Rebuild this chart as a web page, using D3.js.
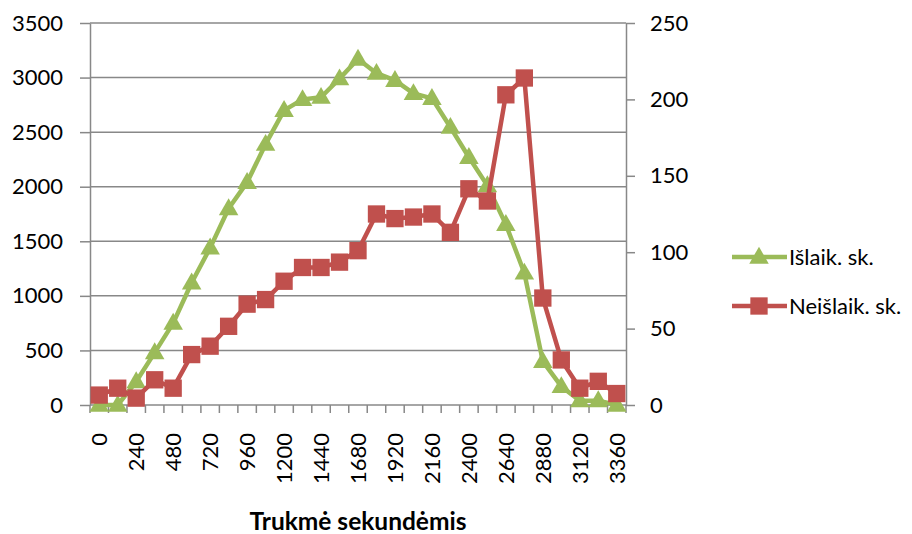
<!DOCTYPE html>
<html>
<head>
<meta charset="utf-8">
<script src="https://cdn.jsdelivr.net/npm/d3@7"></script>
<style>
  body { margin: 0; background: #fff; }
  svg text { font-family: Lato, "Liberation Sans", sans-serif; fill: #000; }
</style>
</head>
<body>
<div id="chart"></div>
<script>
// categories: duration in seconds, step 120
var categories = d3.range(0, 3361, 120);
// Išlaik. sk. (left axis)
var islaik = [0, 0, 215, 480, 750, 1120, 1440, 1800, 2040, 2390, 2700, 2800, 2820, 2990, 3170,
              3040, 2975, 2855, 2810, 2545, 2270, 2010, 1655, 1210, 400, 170, 40, 40, 0];
// Neišlaik. sk. (right axis)
var neislaik = [6.5, 11, 4.5, 16.5, 11, 33, 38.5, 51.5, 66, 69, 81, 90, 90, 93.5, 101,
                125, 122, 123, 125, 113, 141.5, 133.5, 203, 214, 70, 29.5, 11, 15.5, 7.5];
var leftTicks = d3.range(0, 3501, 500);
var rightTicks = d3.range(0, 251, 50);
var seriesNames = ["Išlaik. sk.", "Neišlaik. sk."];

var W = 912, H = 534;
var plot = { left: 90, right: 626, top: 23, bottom: 405 };
var green = "#9bbb59", red = "#c0504d", grid = "#888888";

var svg = d3.select("#chart").append("svg")
    .attr("width", W)
    .attr("height", H);

var x = d3.scaleBand().domain(categories).range([plot.left, plot.right]).padding(0);
var yL = d3.scaleLinear().domain([0, 3500]).range([plot.bottom, plot.top]);
var yR = d3.scaleLinear().domain([0, 250]).range([plot.bottom, plot.top]);
var cx = function(d, i) { return x(categories[i]) + x.bandwidth() / 2; };

// gridlines
svg.append("g").selectAll("line").data(leftTicks.slice(1)).enter().append("line")
    .attr("x1", plot.left).attr("x2", plot.right)
    .attr("y1", function(d) { return yL(d); }).attr("y2", function(d) { return yL(d); })
    .attr("stroke", grid).attr("stroke-width", 1.5);

// left axis
var gl = svg.append("g").attr("transform", "translate(" + plot.left + ",0)")
    .call(d3.axisLeft(yL).tickValues(leftTicks).tickFormat(d3.format("d"))
        .tickSize(10).tickSizeOuter(0).tickPadding(17));
// right axis
var gr = svg.append("g").attr("transform", "translate(" + plot.right + ",0)")
    .call(d3.axisRight(yR).tickValues(rightTicks).tickFormat(d3.format("d"))
        .tickSize(9).tickSizeOuter(0).tickPadding(15));
[gl, gr].forEach(function(g) {
    g.selectAll("path, line").attr("stroke", grid).attr("stroke-width", 1.5);
    g.selectAll("text").style("font-size", "22px").attr("fill", "#000");
});

// x axis line and ticks at category boundaries
var gx = svg.append("g");
gx.append("line").attr("x1", plot.left).attr("x2", plot.right)
    .attr("y1", plot.bottom).attr("y2", plot.bottom)
    .attr("stroke", grid).attr("stroke-width", 1.5);
var bounds = categories.map(function(c) { return x(c); }).concat([plot.right]);
gx.selectAll("line.tk").data(bounds).enter().append("line").attr("class", "tk")
    .attr("x1", function(d) { return d; }).attr("x2", function(d) { return d; })
    .attr("y1", plot.bottom).attr("y2", plot.bottom + 8)
    .attr("stroke", grid).attr("stroke-width", 1.5);
gx.selectAll("text").data(categories.filter(function(c, i) { return i % 2 === 0; })).enter()
    .append("text")
    .attr("transform", function(d) {
        return "translate(" + (x(d) + x.bandwidth() / 2) + "," + (plot.bottom + 28) + ") rotate(-90)";
    })
    .attr("text-anchor", "end")
    .attr("dy", "0.36em")
    .style("font-size", "22px")
    .text(function(d) { return d; });

// axis title
svg.append("text")
    .attr("x", 358).attr("y", 530)
    .attr("text-anchor", "middle")
    .style("font-size", "24.5px").style("font-weight", "bold")
    .text("Trukmė sekundėmis");

// series
var lineL = d3.line().x(cx).y(function(d) { return yL(d); });
var lineR = d3.line().x(cx).y(function(d) { return yR(d); });
var tri = d3.symbol().type(d3.symbolTriangle).size(165);
var sq = d3.symbol().type(d3.symbolSquare).size(300);

svg.append("path").datum(islaik).attr("d", lineL)
    .attr("fill", "none").attr("stroke", green).attr("stroke-width", 4.5).attr("stroke-linejoin", "round");
svg.append("g").selectAll("path").data(islaik).enter().append("path")
    .attr("d", tri)
    .attr("transform", function(d, i) { return "translate(" + cx(d, i) + "," + (yL(d) + 1) + ")"; })
    .attr("fill", green);

svg.append("path").datum(neislaik).attr("d", lineR)
    .attr("fill", "none").attr("stroke", red).attr("stroke-width", 4.5).attr("stroke-linejoin", "round");
svg.append("g").selectAll("path").data(neislaik).enter().append("path")
    .attr("d", sq)
    .attr("transform", function(d, i) { return "translate(" + cx(d, i) + "," + yR(d) + ")"; })
    .attr("fill", red);

// legend
var legend = svg.append("g");
var legY = [257, 306];
var legCol = [green, red];
var legSym = [tri, sq];
seriesNames.forEach(function(name, i) {
    legend.append("line").attr("x1", 732).attr("x2", 787)
        .attr("y1", legY[i]).attr("y2", legY[i])
        .attr("stroke", legCol[i]).attr("stroke-width", 4.5);
    legend.append("path").attr("d", legSym[i])
        .attr("transform", "translate(759," + (legY[i] + (i === 0 ? 1 : 0)) + ")")
        .attr("fill", legCol[i]);
    legend.append("text").attr("x", 789).attr("y", legY[i]).attr("dy", "0.35em")
        .style("font-size", "22px").text(name);
});
</script>
</body>
</html>
